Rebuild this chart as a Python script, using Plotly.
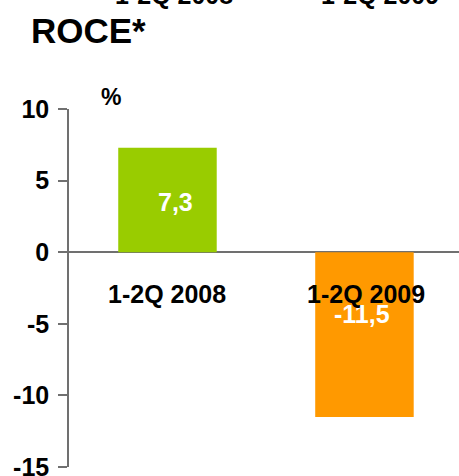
import plotly.graph_objects as go

categories = ["1-2Q 2008", "1-2Q 2009"]
values = [7.3, -11.5]
value_labels = ["7,3", "-11,5"]
bar_colors = ["#99CC00", "#FF9900"]
y_ticks = [10, 5, 0, -5, -10, -15]
title_text = "ROCE*"
unit_text = "%"

FONT = "Liberation Sans, Arial, sans-serif"
L, T, PW, PH = 69, 109, 390, 357.7

def px(xp):
    return (xp - L) / PW

def py(yp):
    return 1 - (yp - T) / PH

fig = go.Figure()
fig.add_trace(go.Bar(
    x=[0, 1], y=values, width=0.5,
    marker=dict(color=bar_colors, line=dict(width=0)),
    hoverinfo="skip",
))

ann = []
# value labels inside bars
label_y = [3.5, -4.35]
label_dx = [0.04, -0.01]
for i, (lab, ly) in enumerate(zip(value_labels, label_y)):
    ann.append(dict(x=i + label_dx[i], y=ly, xref="x", yref="y", text=f"<b>{lab}</b>",
                    showarrow=False, xanchor="center", yanchor="middle",
                    font=dict(family=FONT, size=25, color="white")))
# category labels below zero line
cat_dx = [0.0, 0.01]
for i, c in enumerate(categories):
    ann.append(dict(x=i + cat_dx[i], y=-2.95, xref="x", yref="y", text=f"<b>{c}</b>",
                    showarrow=False, xanchor="center", yanchor="middle",
                    font=dict(family=FONT, size=25, color="black")))
# cut-off header labels at top
header_x = [174, 380]
for c, hx in zip(categories, header_x):
    ann.append(dict(x=px(hx), y=py(7), xref="paper", yref="paper", text=f"<b>{c}</b>",
                    showarrow=False, xanchor="center", yanchor="bottom", yshift=-4,
                    font=dict(family=FONT, size=25, color="black")))
# title
ann.append(dict(x=px(29), y=py(31), xref="paper", yref="paper", xanchor="left", yanchor="middle",
                text=f"<b>{title_text}</b>", showarrow=False,
                font=dict(family=FONT, size=35, color="black")))
# unit
ann.append(dict(x=px(111), y=py(97), xref="paper", yref="paper", text=f"<b>{unit_text}</b>",
                showarrow=False, xanchor="center", yanchor="middle",
                font=dict(family=FONT, size=23, color="black")))

fig.update_layout(
    width=459, height=476,
    margin=dict(l=69, r=0, t=109, b=9, autoexpand=False),
    paper_bgcolor="white", plot_bgcolor="white",
    showlegend=False,
    annotations=ann,
    xaxis=dict(range=[-0.5, 1.48], showticklabels=False, showgrid=False, zeroline=False,
               showline=False, ticks="", automargin=False),
    yaxis=dict(range=[-15, 10], tickvals=y_ticks, ticktext=[f"<b>{t}</b>" for t in y_ticks],
               showgrid=False, zeroline=True, zerolinecolor="#707070", zerolinewidth=1.5,
               showline=True, linecolor="#707070", linewidth=1.5,
               ticks="outside", ticklen=9, tickcolor="#707070", tickwidth=1.5,
               ticklabeloverflow="allow", automargin=False,
               tickfont=dict(family=FONT, size=25, color="black"), ticklabelstandoff=4),
)

fig.write_html("out.html", config={"displayModeBar": False},
               post_script="document.body.style.margin='0';document.body.style.overflow='hidden';")
